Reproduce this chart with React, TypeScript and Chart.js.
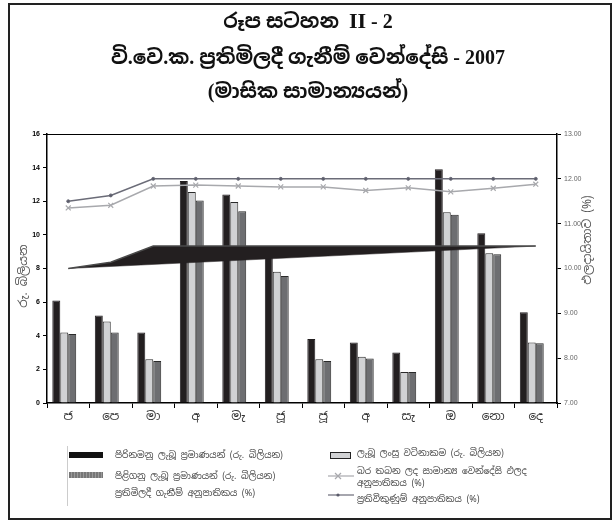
import React, { useEffect, useRef } from "react";
import { Chart, registerables } from "chart.js";

Chart.register(...registerables);

const months = ["ජ", "පෙ", "මා", "අ", "මැ", "ජූ", "ජූ", "අ", "සැ", "ඔ", "නො", "දෙ"];
const offered = [6.1, 5.2, 4.2, 13.2, 12.4, 8.7, 3.8, 3.6, 3.0, 13.9, 10.1, 5.4];
const bidsReceived = [4.2, 4.85, 2.6, 12.55, 11.95, 7.8, 2.6, 2.75, 1.85, 11.35, 8.9, 3.6];
const accepted = [4.1, 4.2, 2.5, 12.05, 11.4, 7.55, 2.5, 2.65, 1.85, 11.2, 8.85, 3.55];
const yieldRate = [11.35, 11.41, 11.84, 11.86, 11.84, 11.82, 11.82, 11.74, 11.8, 11.71, 11.79, 11.88];
const reverseRepo = [11.5, 11.63, 12.0, 12.0, 12.0, 12.0, 12.0, 12.0, 12.0, 12.0, 12.0, 12.0];
const repoRate = [10.0, 10.14, 10.5, 10.5, 10.5, 10.5, 10.5, 10.5, 10.5, 10.5, 10.5, 10.5];
const repoBase = [10.0, null, null, null, null, null, null, null, null, null, null, 10.5];
const leftTicks = [0, 16, 2];
const rightTicks = [7, 13, 1];

const sinhala = "'Noto Sans Sinhala', 'Iskoola Pota', sans-serif";

const framePlugin = {
  id: "frame",
  afterDraw(chart: any) {
    const { ctx, chartArea } = chart;
    ctx.save();
    ctx.strokeStyle = "#000";
    ctx.lineWidth = 1;
    ctx.beginPath();
    ctx.moveTo(chartArea.left, chartArea.top + 0.5);
    ctx.lineTo(chartArea.right, chartArea.top + 0.5);
    ctx.stroke();
    ctx.fillStyle = "#555";
    ctx.font = "12px " + sinhala;
    ctx.textAlign = "center";
    ctx.textBaseline = "middle";
    ctx.translate(24, 276);
    ctx.rotate(-Math.PI / 2);
    ctx.fillText("රු. බිලියන", 0, 0);
    ctx.restore();
    ctx.save();
    ctx.fillStyle = "#555";
    ctx.font = "12px " + sinhala;
    ctx.textAlign = "center";
    ctx.textBaseline = "middle";
    ctx.translate(588, 240);
    ctx.rotate(-Math.PI / 2);
    ctx.fillText("ඵලදායිතාව (%)", 0, 0);
    ctx.restore();
  },
};

export default function App() {
  const ref = useRef<HTMLCanvasElement | null>(null);
  useEffect(() => {
    if (!ref.current) return;
    const chart = new Chart(ref.current, {
      type: "bar",
      data: {
        labels: months,
        datasets: [
          {
            type: "line",
            label: "ප්‍රතිවිකුණුම් අනුපාතිකය (%)",
            data: reverseRepo,
            yAxisID: "y1",
            borderColor: "#6b6c78",
            backgroundColor: "#5a5b6a",
            borderWidth: 1.5,
            pointRadius: 1.5,
            pointBorderWidth: 1,
            pointStyle: "circle",
            order: 0,
          },
          {
            type: "line",
            label: "බර තබන ලද සාමාන්‍ය වෙන්දේසි ඵලද අනුපාතිකය (%)",
            data: yieldRate,
            yAxisID: "y1",
            borderColor: "#a8a9ad",
            backgroundColor: "#a8a9ad",
            borderWidth: 1.5,
            pointRadius: 3.5,
            pointStyle: "crossRot",
            pointBorderWidth: 1.2,
            order: 0,
          },
          {
            type: "line",
            label: "ප්‍රතිමිලදී ගැනීම් අනුපාතිකය (%)",
            data: repoRate,
            yAxisID: "y1",
            borderColor: "#4a4a4a",
            backgroundColor: "#231f20",
            borderWidth: 1.5,
            pointRadius: 0,
            fill: "+1",
            order: 1,
          },
          {
            type: "line",
            label: "base",
            data: repoBase,
            yAxisID: "y1",
            borderColor: "#231f20",
            borderWidth: 0.5,
            pointRadius: 0,
            spanGaps: true,
            fill: false,
            order: 1,
          },
          {
            label: "පිරිනමනු ලැබූ ප්‍රමාණයන් (රු. බිලියන)",
            data: offered,
            yAxisID: "y",
            backgroundColor: "#231f20",
            borderColor: "#231f20",
            borderWidth: 1,
            order: 2,
          },
          {
            label: "ලැබූ ලංසු වටිනාකම (රු. බිලියන)",
            data: bidsReceived,
            yAxisID: "y",
            backgroundColor: "#d1d2d4",
            borderColor: "#2a2a2a",
            borderWidth: 1,
            order: 2,
          },
          {
            label: "පිළිගනු ලැබූ ප්‍රමාණයන් (රු. බිලියන)",
            data: accepted,
            yAxisID: "y",
            backgroundColor: "#6d6e71",
            borderColor: "#2a2a2a",
            borderWidth: 1,
            order: 2,
          },
          {
            label: "spacer",
            data: months.map(() => null),
            yAxisID: "y",
            order: 2,
          },
        ],
      },
      options: {
        responsive: false,
        animation: false,
        devicePixelRatio: 1,
        layout: { padding: { top: 134, left: 0, right: 0, bottom: 0 } },
        datasets: { bar: { categoryPercentage: 0.75, barPercentage: 1.0 } },
        plugins: { legend: { display: false }, tooltip: { enabled: false }, title: { display: false } },
        scales: {
          x: {
            offset: true,
            grid: { display: true, drawOnChartArea: false, offset: true, tickLength: 5, color: "#000" },
            border: { display: true, color: "#000", width: 1.5 },
            ticks: { color: "#333", font: { size: 12, family: sinhala }, padding: 2 },
            afterFit(scale: any) {
              scale.height = 120;
            },
          },
          y: {
            position: "left",
            min: leftTicks[0],
            max: leftTicks[1],
            ticks: { stepSize: leftTicks[2], color: "#000", font: { size: 7, weight: "bold", family: "Arial, 'Liberation Sans'" }, padding: 3 },
            grid: { display: true, drawOnChartArea: false, tickLength: 4, color: "#000" },
            border: { display: true, color: "#000", width: 1.5 },
            afterFit(scale: any) {
              scale.width = 47;
            },
          },
          y1: {
            position: "right",
            min: rightTicks[0],
            max: rightTicks[1],
            ticks: {
              stepSize: rightTicks[2],
              color: "#666",
              font: { size: 7, family: "Arial, 'Liberation Sans'" },
              padding: 3,
              callback: (v: any) => Number(v).toFixed(2),
            },
            grid: { display: true, drawOnChartArea: false, tickLength: 4, color: "#000" },
            border: { display: true, color: "#000", width: 1.5 },
            afterFit(scale: any) {
              scale.width = 59;
            },
          },
        },
      },
      plugins: [framePlugin],
    } as any);
    return () => chart.destroy();
  }, []);

  const legendText: React.CSSProperties = {
    position: "absolute",
    fontFamily: sinhala,
    fontSize: 9,
    color: "#444",
    whiteSpace: "nowrap",
    lineHeight: "12px",
  };
  const titleStyle: React.CSSProperties = {
    position: "absolute",
    left: 0,
    width: 616,
    textAlign: "center",
    fontFamily: "'Liberation Serif', " + sinhala,
    fontWeight: "bold",
    fontSize: 20,
    color: "#111",
    lineHeight: "24px",
    whiteSpace: "nowrap",
  };

  return (
    <div style={{ position: "absolute", left: 0, top: 0, width: 616, height: 523, background: "#fff", overflow: "hidden" }}>
      <canvas ref={ref} width={616} height={523} style={{ position: "absolute", left: 0, top: 0, width: 616, height: 523 }} />
      <div style={{ position: "absolute", left: 8, top: 3, width: 600, height: 513, border: "2.5px solid #222", pointerEvents: "none" }} />
      <div style={{ ...titleStyle, top: 9 }}>රූප සටහන&nbsp;&nbsp;<span style={{ fontSize: 22 }}>II</span> - 2</div>
      <div style={{ ...titleStyle, top: 45 }}>වි.වෙ.ක. ප්‍රතිමිලදී ගැනීම් වෙන්දේසි - 2007</div>
      <div style={{ ...titleStyle, top: 79 }}>(මාසික සාමාන්‍යයන්)</div>

      <div style={{ position: "absolute", left: 67, top: 446, width: 1, height: 60, background: "#ccc" }} />
      <div style={{ position: "absolute", left: 69, top: 452, width: 34, height: 6, background: "#111" }} />
      <div style={{ ...legendText, left: 115, top: 449 }}>පිරිනමනු ලැබූ ප්‍රමාණයන් (රු. බිලියන)</div>
      <div style={{ position: "absolute", left: 69, top: 472, width: 34, height: 6, background: "repeating-linear-gradient(90deg, #777 0 2px, #999 2px 3px)" }} />
      <div style={{ ...legendText, left: 115, top: 470 }}>පිළිගනු ලැබූ ප්‍රමාණයන් (රු. බිලියන)</div>
      <div style={{ ...legendText, left: 115, top: 487 }}>ප්‍රතිමිලදී ගැනීම් අනුපාතිකය (%)</div>

      <div style={{ position: "absolute", left: 330, top: 452, width: 19, height: 5, background: "#d1d2d4", border: "1.5px solid #222" }} />
      <div style={{ ...legendText, left: 357, top: 447 }}>ලැබූ ලංසු වටිනාකම (රු. බිලියන)</div>
      <svg style={{ position: "absolute", left: 328, top: 470 }} width={26} height={12}>
        <line x1={0} y1={6} x2={26} y2={6} stroke="#a8a9ad" strokeWidth={1.2} />
        <line x1={7} y1={3} x2={13} y2={9} stroke="#a8a9ad" strokeWidth={1.2} />
        <line x1={13} y1={3} x2={7} y2={9} stroke="#a8a9ad" strokeWidth={1.2} />
      </svg>
      <div style={{ ...legendText, left: 357, top: 465 }}>බර තබන ලද සාමාන්‍ය වෙන්දේසි ඵලද</div>
      <div style={{ ...legendText, left: 357, top: 477 }}>අනුපාතිකය (%)</div>
      <svg style={{ position: "absolute", left: 328, top: 489 }} width={26} height={12}>
        <line x1={0} y1={6} x2={26} y2={6} stroke="#6b6c78" strokeWidth={1.2} />
        <circle cx={10} cy={6} r={1.6} fill="#5a5b6a" />
      </svg>
      <div style={{ ...legendText, left: 357, top: 493 }}>ප්‍රතිවිකුණුම් අනුපාතිකය (%)</div>
    </div>
  );
}
